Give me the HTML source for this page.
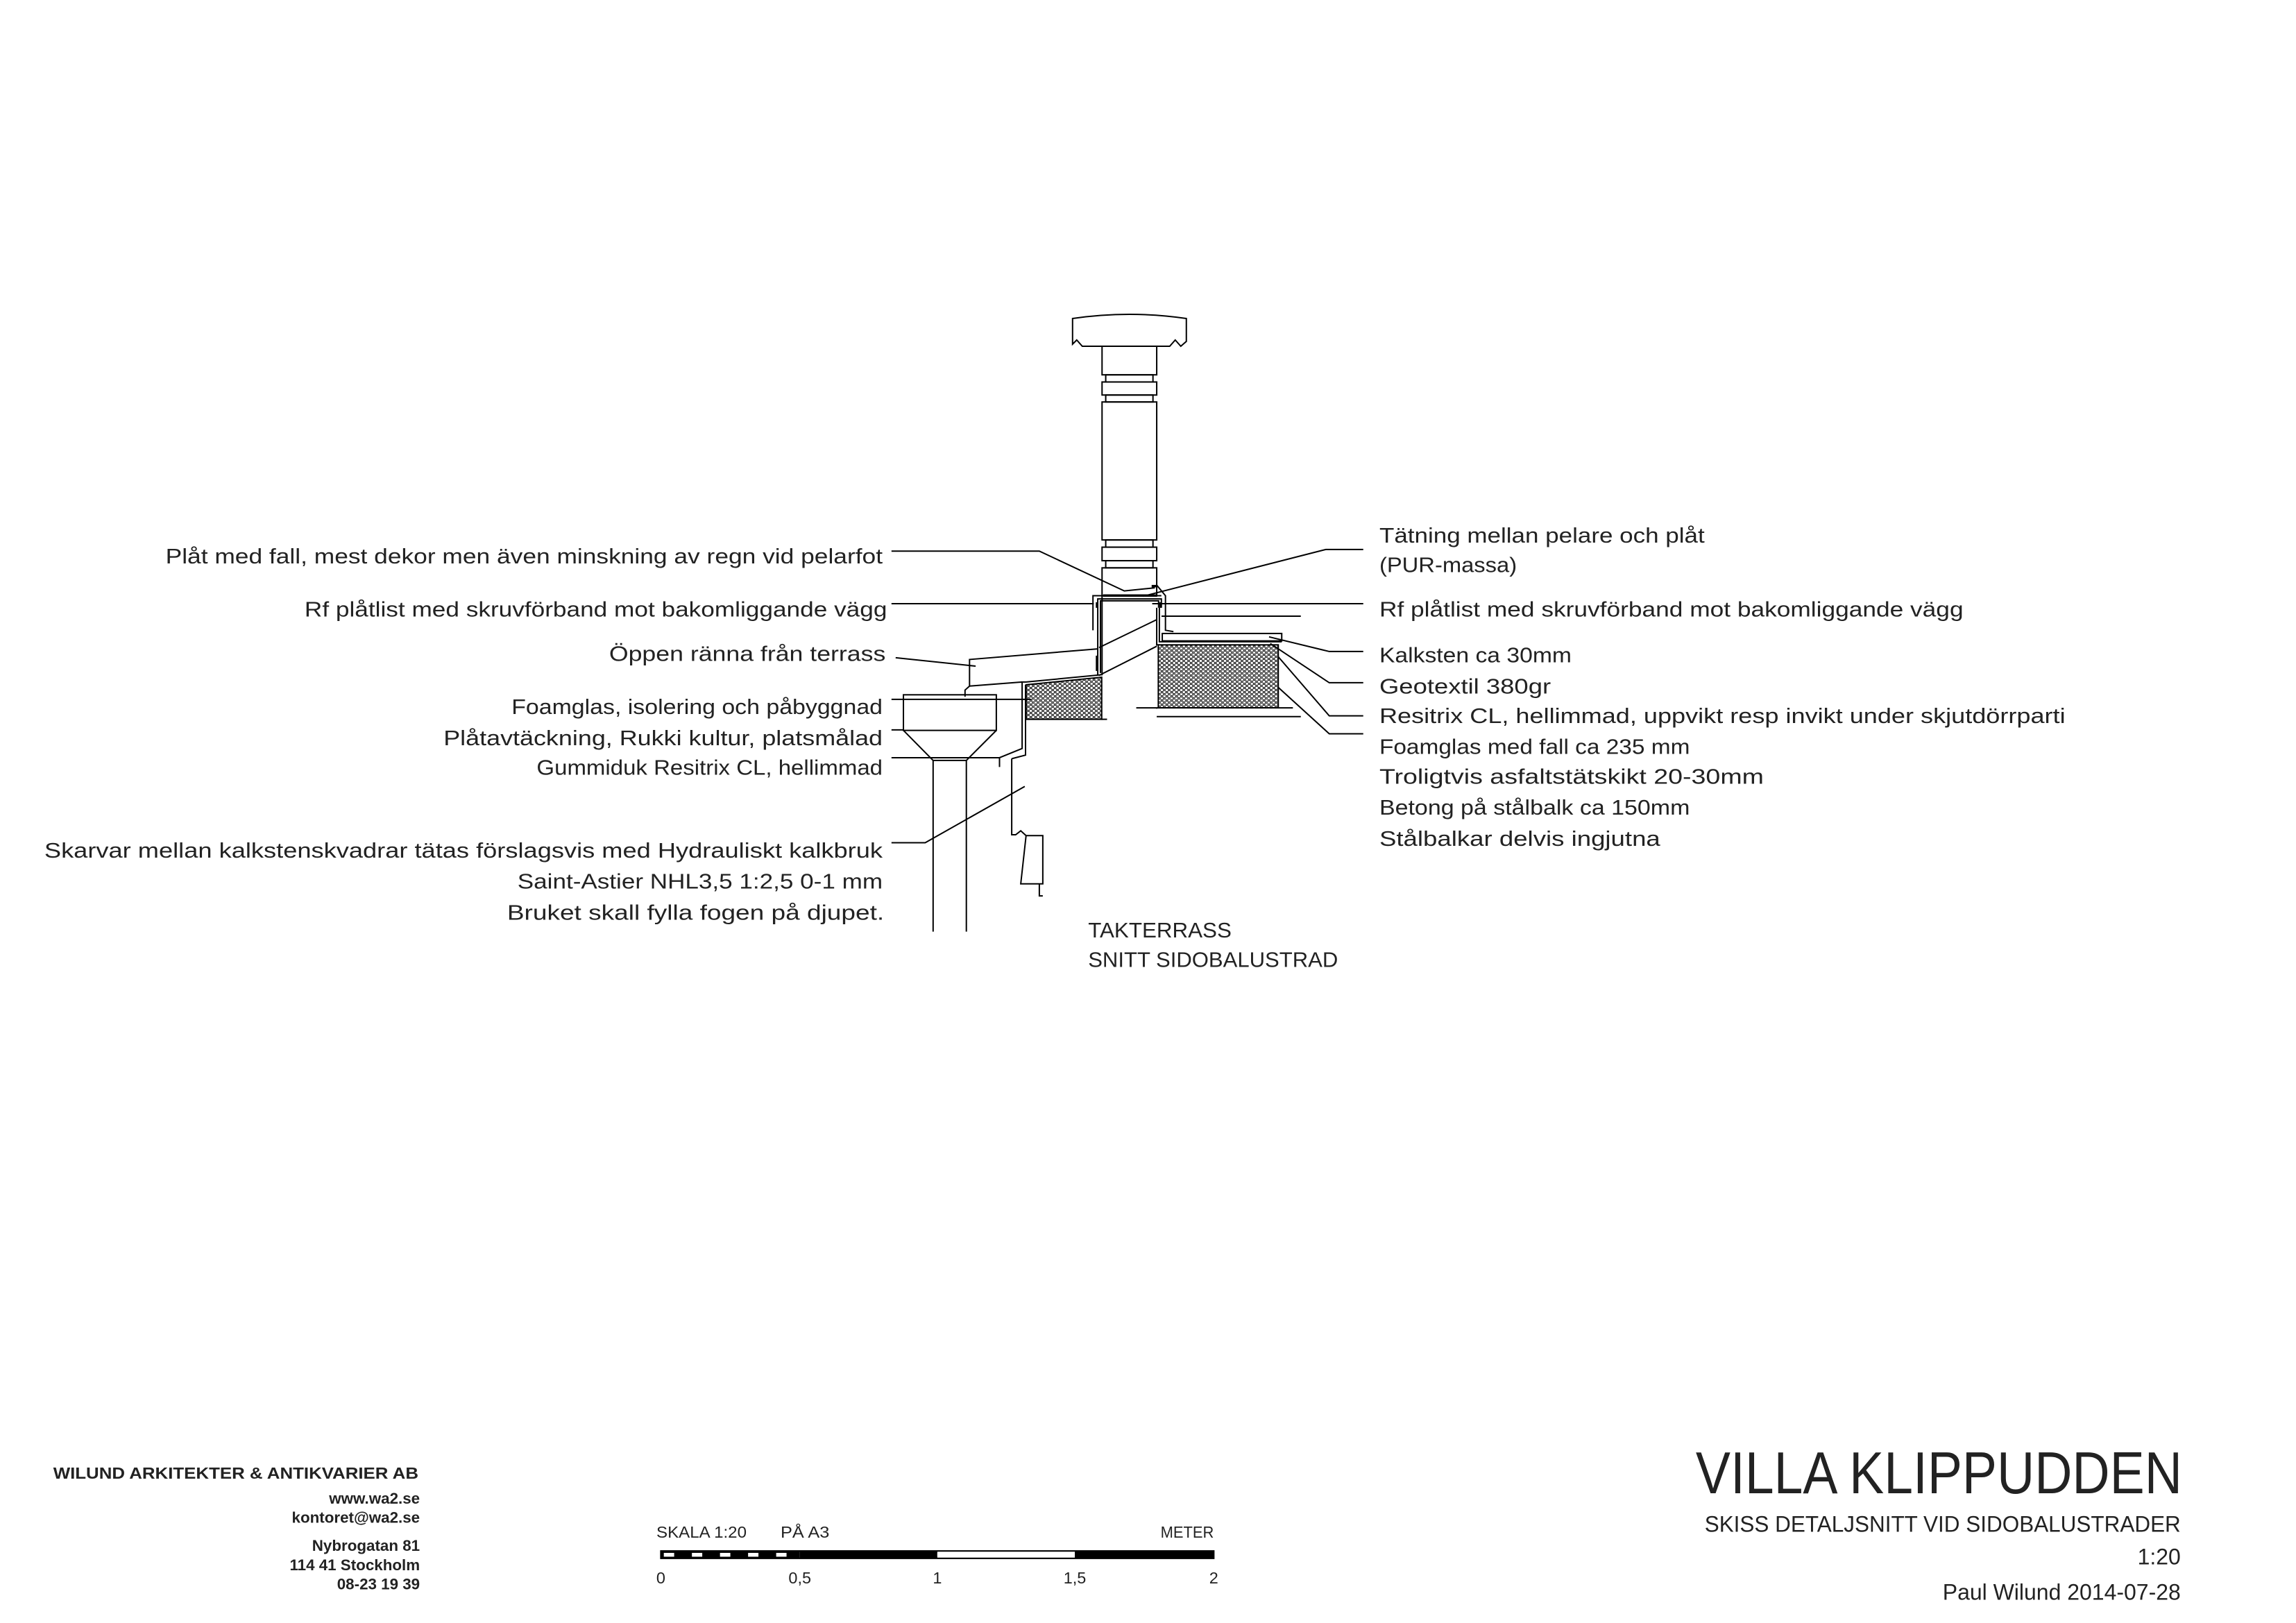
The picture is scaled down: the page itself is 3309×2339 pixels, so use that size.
<!DOCTYPE html>
<html><head><meta charset="utf-8"><style>
html,body{margin:0;padding:0;background:#fff}
svg{display:block}
text{font-family:"Liberation Sans",sans-serif;fill:#222}
.l{font-size:14.5px}
</style></head><body>
<svg width="3309" height="2339" viewBox="0 0 1553 1097.7" xmlns="http://www.w3.org/2000/svg">
<defs>
<pattern id="h" patternUnits="userSpaceOnUse" width="7" height="6">
<rect width="7" height="6" fill="#fff"/>
<rect x="0.6" y="0.6" width="2.6" height="2" fill="none" stroke="#000" stroke-width="1"/>
<rect x="4.1" y="3.6" width="2.6" height="2" fill="none" stroke="#000" stroke-width="1"/>
</pattern>
</defs>
<g transform="scale(0.46926)" fill="none" stroke="#000" stroke-width="2">
<!-- cap -->
<path d="M1546,459 Q1628,447 1710,459 L1710,492 L1702,499 L1694,490 L1686,499 L1560,499 L1552,490 L1546,496 Z"/>
<rect x="1588.5" y="499" width="78.8" height="41.2"/>
<rect x="1593.8" y="540.2" width="68.1" height="10.3"/>
<rect x="1588.5" y="550.5" width="78.8" height="18.8"/>
<rect x="1593.8" y="569.3" width="68.1" height="10"/>
<rect x="1588.5" y="579.3" width="78.8" height="198.9"/>
<rect x="1593.8" y="778.2" width="68.1" height="10.4"/>
<rect x="1588.5" y="788.6" width="78.8" height="19.5"/>
<rect x="1593.8" y="808.1" width="68.1" height="10.3"/>
<rect x="1588.5" y="818.4" width="78.8" height="40.2"/>
<!-- flashing -->
<path d="M1575.4,908.4 L1575.4,858.6 L1674,858.6"/>
<path d="M1582.3,973.4 L1582.3,863.2 L1674,863.2 L1674,876"/>
<path d="M1586.2,970 L1586.2,866 L1670,866 L1670,876"/>
<rect x="1590" y="856.6" width="78" height="3.5" fill="#000" stroke="none"/>
<rect x="1660" y="843" width="7.5" height="3.5" fill="#000" stroke="none"/>
<rect x="1579.5" y="868" width="3" height="8" fill="#000" stroke="none"/>
<rect x="1671" y="868" width="3" height="8" fill="#000" stroke="none"/>
<rect x="1579.5" y="945" width="3" height="22" fill="#000" stroke="none"/>
<path d="M1667.3,843.3 L1679.9,858.6 L1679.9,908.4 L1691.4,910.3"/>
<path d="M1667.3,876 L1667.3,929.4 L1672,929.4"/>
<path d="M1671.1,876 L1671.1,925 L1675,925 L1847.5,925"/>
<!-- step wall -->
<path d="M1588.5,858.6 L1588.5,972.4 L1479,983 L1473.3,983 L1473.3,1078.8 L1440.7,1092 L1440.7,1105.5"/>
<path d="M1478.2,987 L1478.2,1088.3 L1459,1093.3 L1458.3,1093.3"/>
<!-- gutter -->
<path d="M1397.5,988.8 L1397.5,950.5 L1582.3,935.2"/>
<path d="M1397.5,988.8 L1473.3,983"/>
<path d="M1391,1004.1 L1391,994.6 L1397.5,988.8"/>
<!-- lower baluster -->
<rect x="1302.2" y="1001.4" width="133.9" height="51.3"/>
<path d="M1302.2,1052.7 L1345,1096 M1436.1,1052.7 L1392.9,1096 M1345,1096 L1392.9,1096 M1345,1096 L1345,1342.8 M1392.9,1096 L1392.9,1342.8"/>
<!-- stone -->
<path d="M1458.3,1093.3 L1458.3,1203.1 L1464,1203.1 L1471.3,1197.4 L1479,1204.3 L1503.1,1204.3 L1503.1,1273.9 L1471.3,1273.9 L1479,1204.3 M1498.1,1273.9 L1498.1,1291.2 L1503.1,1291.2"/>
<!-- hatch -->
<polygon points="1479,987 1588,976 1588,1036.7 1479,1036.7" fill="url(#h)"/>
<path d="M1588,1036.7 L1595.7,1036.7"/>
<rect x="1669.6" y="929.4" width="172.9" height="90.6" fill="url(#h)"/>
<rect x="1675.3" y="913" width="172.2" height="10.7"/>
<path d="M1674.2,888.1 L1875,888.1 M1637.8,1020.2 L1863.6,1020.2 M1667.3,1020.2 L1667.3,1021.5 M1667.3,1032.8 L1875,1032.8"/>
<!-- left leaders -->
<path d="M1285,794.3 L1498.1,794.3 L1620.6,851.7 L1664.6,847.2"/>
<path d="M1285,870.1 L1576.6,870.1"/>
<path d="M1291,948 L1406.3,960.1"/>
<path d="M1584.2,933.3 L1667.3,893.1"/>
<path d="M1584.2,973.5 L1667.3,931.4"/>
<path d="M1285,1008 L1486.7,1008"/>
<path d="M1285,1052 L1302.2,1052"/>
<path d="M1285,1092.1 L1440.7,1092.1"/>
<path d="M1285,1214.6 L1333.6,1214.6 L1477.1,1133.5"/>
<!-- right leaders -->
<path d="M1965,791.9 L1911,791.9 L1647.4,859.4"/>
<path d="M1660.8,870.1 L1965,870.1"/>
<path d="M1829.2,917.9 L1916,939 L1965,939"/>
<path d="M1831,927.5 L1916,984 L1965,984"/>
<path d="M1842.5,946.6 L1916,1031.7 L1965,1031.7"/>
<path d="M1842.5,990.7 L1916,1057.6 L1965,1057.6"/>
</g>

<!-- left labels -->
<g class="l" text-anchor="end">
<text x="597" y="381" textLength="485" lengthAdjust="spacingAndGlyphs">Plåt med fall, mest dekor men även minskning av regn vid pelarfot</text>
<text x="600" y="417" textLength="394" lengthAdjust="spacingAndGlyphs">Rf plåtlist med skruvförband mot bakomliggande vägg</text>
<text x="599" y="447" textLength="187" lengthAdjust="spacingAndGlyphs">Öppen ränna från terrass</text>
<text x="597" y="483" textLength="251" lengthAdjust="spacingAndGlyphs">Foamglas, isolering och påbyggnad</text>
<text x="597" y="504" textLength="297" lengthAdjust="spacingAndGlyphs">Plåtavtäckning, Rukki kultur, platsmålad</text>
<text x="597" y="524" textLength="234" lengthAdjust="spacingAndGlyphs">Gummiduk Resitrix CL, hellimmad</text>
<text x="597" y="580" textLength="567" lengthAdjust="spacingAndGlyphs">Skarvar mellan kalkstenskvadrar tätas förslagsvis med Hydrauliskt kalkbruk</text>
<text x="597" y="601" textLength="247" lengthAdjust="spacingAndGlyphs">Saint-Astier NHL3,5  1:2,5  0-1 mm</text>
<text x="598" y="622" textLength="255" lengthAdjust="spacingAndGlyphs">Bruket skall fylla fogen på djupet.</text>
</g>
<!-- right labels -->
<g class="l">
<text x="933" y="367" textLength="220" lengthAdjust="spacingAndGlyphs">Tätning mellan pelare och plåt</text>
<text x="933" y="387" textLength="93" lengthAdjust="spacingAndGlyphs">(PUR-massa)</text>
<text x="933" y="417" textLength="395" lengthAdjust="spacingAndGlyphs">Rf plåtlist med skruvförband mot bakomliggande vägg</text>
<text x="933" y="448" textLength="130" lengthAdjust="spacingAndGlyphs">Kalksten ca 30mm</text>
<text x="933" y="469" textLength="116" lengthAdjust="spacingAndGlyphs">Geotextil 380gr</text>
<text x="933" y="489" textLength="464" lengthAdjust="spacingAndGlyphs">Resitrix CL, hellimmad, uppvikt resp invikt under skjutdörrparti</text>
<text x="933" y="510" textLength="210" lengthAdjust="spacingAndGlyphs">Foamglas med fall ca 235 mm</text>
<text x="933" y="530" textLength="260" lengthAdjust="spacingAndGlyphs">Troligtvis asfaltstätskikt 20-30mm</text>
<text x="933" y="551" textLength="210" lengthAdjust="spacingAndGlyphs">Betong på stålbalk ca 150mm</text>
<text x="933" y="572" textLength="190" lengthAdjust="spacingAndGlyphs">Stålbalkar delvis ingjutna</text>
<text x="736" y="634" textLength="97" lengthAdjust="spacingAndGlyphs">TAKTERRASS</text>
<text x="736" y="654" textLength="169" lengthAdjust="spacingAndGlyphs">SNITT SIDOBALUSTRAD</text>
</g>

<!-- title block left -->
<text x="36" y="1000" font-size="11" font-weight="bold" textLength="247" lengthAdjust="spacingAndGlyphs">WILUND ARKITEKTER &amp; ANTIKVARIER AB</text>
<g font-size="10.5" font-weight="bold" text-anchor="end">
<text x="284" y="1017">www.wa2.se</text>
<text x="284" y="1030">kontoret@wa2.se</text>
<text x="284" y="1049">Nybrogatan 81</text>
<text x="284" y="1062">114 41 Stockholm</text>
<text x="284" y="1075">08-23 19 39</text>
</g>
<!-- scale bar -->
<g font-size="11">
<text x="444" y="1040" textLength="61" lengthAdjust="spacingAndGlyphs">SKALA 1:20</text>
<text x="528" y="1040" textLength="33" lengthAdjust="spacingAndGlyphs">PÅ A3</text>
<text x="821" y="1040" text-anchor="end" textLength="36" lengthAdjust="spacingAndGlyphs">METER</text>
<text x="447" y="1071" text-anchor="middle">0</text>
<text x="541" y="1071" text-anchor="middle">0,5</text>
<text x="634" y="1071" text-anchor="middle">1</text>
<text x="727" y="1071" text-anchor="middle">1,5</text>
<text x="821" y="1071" text-anchor="middle">2</text>
</g>
<rect x="447" y="1049" width="374" height="5" fill="none" stroke="#000" stroke-width="1"/>
<rect x="447" y="1049" width="94" height="5" fill="#000"/>
<rect x="541" y="1049" width="93" height="5" fill="#000"/>
<rect x="727" y="1049" width="94" height="5" fill="#000"/>
<g fill="#fff"><rect x="449" y="1050.3" width="7" height="2.6"/><rect x="468" y="1050.3" width="7" height="2.6"/><rect x="487" y="1050.3" width="7" height="2.6"/><rect x="506" y="1050.3" width="7" height="2.6"/><rect x="525" y="1050.3" width="7" height="2.6"/></g>
<rect x="634" y="1050.2" width="93" height="2.6" fill="#fff"/>
<!-- title block right -->
<text x="1476" y="1010" font-size="40" text-anchor="end" textLength="329" lengthAdjust="spacingAndGlyphs">VILLA KLIPPUDDEN</text>
<text x="1475" y="1036" font-size="15" text-anchor="end" textLength="322" lengthAdjust="spacingAndGlyphs">SKISS DETALJSNITT VID SIDOBALUSTRADER</text>
<text x="1475" y="1058" font-size="15" text-anchor="end">1:20</text>
<text x="1475" y="1082" font-size="15" text-anchor="end" textLength="161" lengthAdjust="spacingAndGlyphs">Paul Wilund 2014-07-28</text>
</svg>
</body></html>
